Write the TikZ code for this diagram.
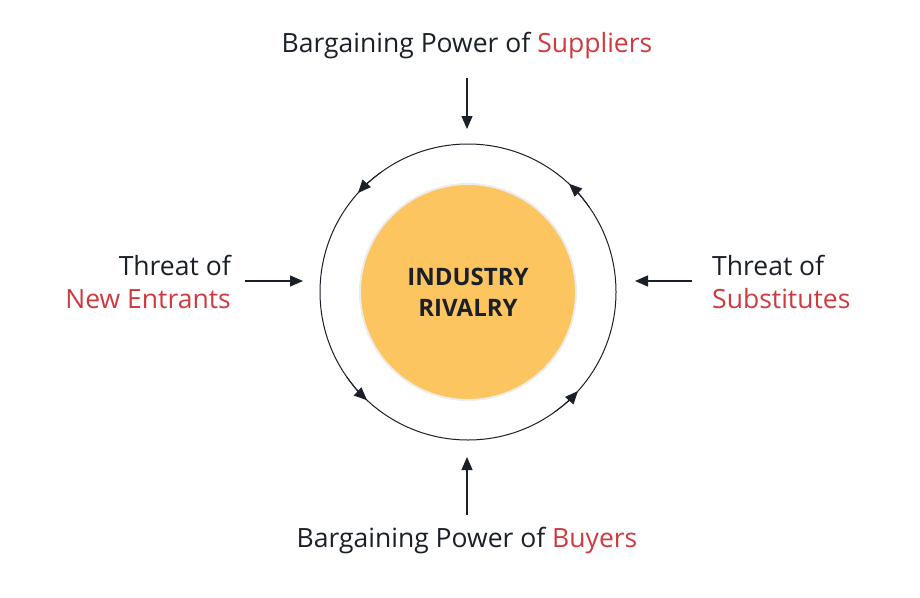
\documentclass[tikz,border=0pt]{standalone}
\usepackage{fontspec}
\setmainfont{Open Sans}
\usetikzlibrary{arrows.meta}
\definecolor{ink}{HTML}{1B1F27}
\definecolor{accent}{HTML}{CF3A3F}
\definecolor{gold}{HTML}{FCC55F}
\begin{document}
\begin{tikzpicture}[x=1pt, y=-1pt, >={Triangle[length=13pt,width=11pt]},
    force/.style={font=\fontsize{26.5}{33}\selectfont, text=ink, inner sep=0pt},
    push/.style={->, draw=ink, line width=1.2pt}]
    \useasboundingbox (0,0) rectangle (920,597);

    % rivalry core and ring
    \node[circle, fill=gold, draw=gray!15, line width=2pt, minimum size=216pt,
          font=\bfseries\fontsize{24}{31}\selectfont, text=ink, align=center]
          (core) at (468,292) {INDUSTRY\\RIVALRY};
    \coordinate (hub) at (468,292);
    \draw[ink, line width=1pt] (hub) circle[radius=148];
    \foreach \a in {138,47,227,318}
        \draw[ink, line width=1pt, ->] ([shift={(-\a+12:148)}]hub) arc[start angle=-\a+12, end angle=-\a, radius=148];

    % five forces
    \node[force] (supp) at (467,46) {Bargaining Power of \textcolor{accent}{Suppliers}};
    \node[force] (buy) at (467,541) {Bargaining Power of \textcolor{accent}{Buyers}};
    \node[force, anchor=east, align=right] (entr) at (231,282) {Threat of\\\textcolor{accent}{New Entrants}};
    \node[force, anchor=west, align=left] (subs) at (712,282) {Threat of\\\textcolor{accent}{Substitutes}};

    \coordinate (top) at (467,129);
    \coordinate (bot) at (467,457);
    \coordinate (lft) at (303,281);
    \coordinate (rgt) at (635,281);
    \draw[push] (467,78) -- (top);
    \draw[push] (467,515) -- (bot);
    \draw[push] (245,281) -- (lft);
    \draw[push] (692,281) -- (rgt);
\end{tikzpicture}
\end{document}
